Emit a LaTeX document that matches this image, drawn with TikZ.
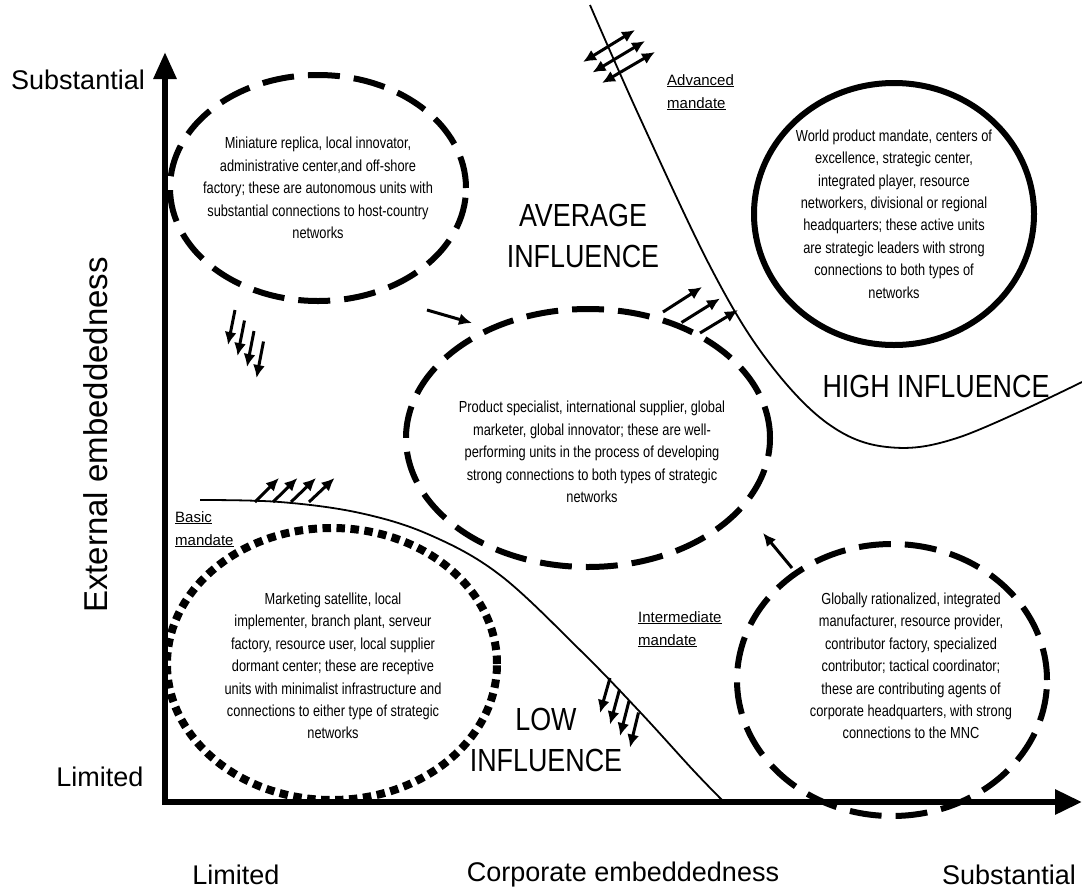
\documentclass[tikz,border=0pt]{standalone}
\usepackage{fontspec}
\setmainfont{Liberation Sans}
\newfontfamily\narrowfont[FakeStretch=0.8]{Liberation Sans}
\newfontfamily\headfont[FakeStretch=0.84]{Liberation Sans}
\usetikzlibrary{arrows.meta,shapes.geometric}

\begin{document}
\begin{tikzpicture}[x=1pt,y=-1pt,
  zone/.style={draw,ellipse,line width=6pt,inner sep=0pt},
  longdash/.style={dash pattern=on 32pt off 14pt},
  squaredots/.style={line width=8pt,dash pattern=on 8.5pt off 5.5pt,line cap=butt},
  desc/.style={font=\narrowfont\fontsize{16}{22.4}\selectfont,align=center,inner sep=0pt},
  big/.style={font=\headfont\fontsize{32}{41}\selectfont,align=center,inner sep=0pt},
  axislabel/.style={font=\fontsize{27}{32}\selectfont,inner sep=0pt},
  mandate/.style={font=\fontsize{15}{23}\selectfont,align=left,inner sep=0pt,anchor=north west},
  boundary/.style={line width=1.8pt},
  moveto/.style={line width=3pt,-{Latex[length=13pt,width=12pt]}},
  twoway/.style={line width=3pt,{Latex[length=13pt,width=12pt]}-{Latex[length=13pt,width=12pt]}},
  axisline/.style={line width=6pt,line join=miter,
    {Triangle[length=27pt,width=22pt]}-{Triangle[length=27pt,width=24pt]}}]
\useasboundingbox (0,0) rectangle (1082,895);

% axes
\coordinate (ytop) at (165,52);
\coordinate (origin) at (165,802);
\coordinate (xend) at (1082,802);
\draw[axisline] (ytop) -- (origin) -- (xend);

\node[axislabel] (ysub) at (78,80) {Substantial};
\node[axislabel] (ylim) at (100,777) {Limited};
\node[axislabel,font=\fontsize{33}{38}\selectfont,rotate=90] (ytitle) at (96,435) {External embeddedness};
\node[axislabel] (xlim) at (236,875) {Limited};
\node[axislabel] (xtitle) at (623,875) {Corporate embeddedness};
\node[axislabel] (xsub) at (1009,875) {Substantial};

% mandate boundaries
\draw[boundary] plot[smooth,tension=0.6] coordinates {(590,5) (640,118) (712,270) (767,360) (827,423) (887,447) (960,437) (1082,382)};
\draw[boundary] plot[smooth,tension=0.6] coordinates {(200,500) (280,502) (360,513) (430,535) (500,575) (580,650) (640,712) (693,770) (722,800)};

\node[mandate] (adv) at (667,74) {\underline{Advanced}\\\underline{mandate}};
\node[mandate] (basic) at (175,511) {\underline{Basic}\\\underline{mandate}};
\node[mandate] (inter) at (638,611) {\underline{Intermediate}\\\underline{mandate}};

% subsidiary groups
\node[zone,longdash,minimum width=296pt,minimum height=226pt] (mini) at (318,188) {};
\node[desc] at (mini.center) {Miniature replica, local innovator,\\administrative center,and off-shore\\factory; these are autonomous units with\\substantial connections to host-country\\networks};

\node[zone,longdash,minimum width=364pt,minimum height=258pt] (spec) at (588,438) {};
\node[desc] at (592,452) {Product specialist, international supplier, global\\marketer, global innovator; these are well-\\performing units in the process of developing\\strong connections to both types of strategic\\networks};

\node[zone,minimum width=280pt,minimum height=262pt] (world) at (894,214) {};
\node[desc] at (world.center) {World product mandate, centers of\\excellence, strategic center,\\integrated player, resource\\networkers, divisional or regional\\headquarters; these active units\\are strategic leaders with strong\\connections to both types of\\networks};

\node[zone,squaredots,minimum width=330pt,minimum height=272pt] (sat) at (332,664) {};
\node[desc] at (333,666) {Marketing satellite, local\\implementer, branch plant, serveur\\factory, resource user, local supplier\\dormant center; these are receptive\\units with minimalist infrastructure and\\connections to either type of strategic\\networks};

\node[zone,longdash,minimum width=310pt,minimum height=272pt] (glob) at (892,680) {};
\node[desc] at (911,666) {Globally rationalized, integrated\\manufacturer, resource provider,\\contributor factory, specialized\\contributor; tactical coordinator;\\these are contributing agents of\\corporate headquarters, with strong\\connections to the MNC};

% influence zones
\node[big] (avg) at (583,236) {AVERAGE\\INFLUENCE};
\node[big] (high) at (936,386) {HIGH INFLUENCE};
\node[big] (low) at (546,740) {LOW\\INFLUENCE};

% movements between groups
\coordinate (miniout) at (427,310);
\coordinate (specin) at (472,323);
\coordinate (globout) at (792,568);
\coordinate (specin2) at (763,533);
\draw[moveto] (miniout) -- (specin);
\draw[moveto] (globout) -- (specin2);
\foreach \k in {0,1,2}
  \draw[twoway] (583+9.5*\k,62+10.5*\k) -- (635+10*\k,30+11*\k);
\foreach \k in {0,1,2,3}
  \draw[moveto] (235+9.5*\k,310+10.5*\k) -- (228+9.5*\k,345+11*\k);
\foreach \k in {0,1,2,3}
  \draw[moveto] (255+18*\k,502) -- (279+18.5*\k,478);
\foreach \k in {0,1,2}
  \draw[moveto] (663+18.5*\k,312+10.5*\k) -- (702+18*\k,287+11.5*\k);
\foreach \k in {0,1,2,3}
  \draw[moveto] (610+9.5*\k,678+11.5*\k) -- (600+10*\k,713+11.5*\k);
\end{tikzpicture}
\end{document}
